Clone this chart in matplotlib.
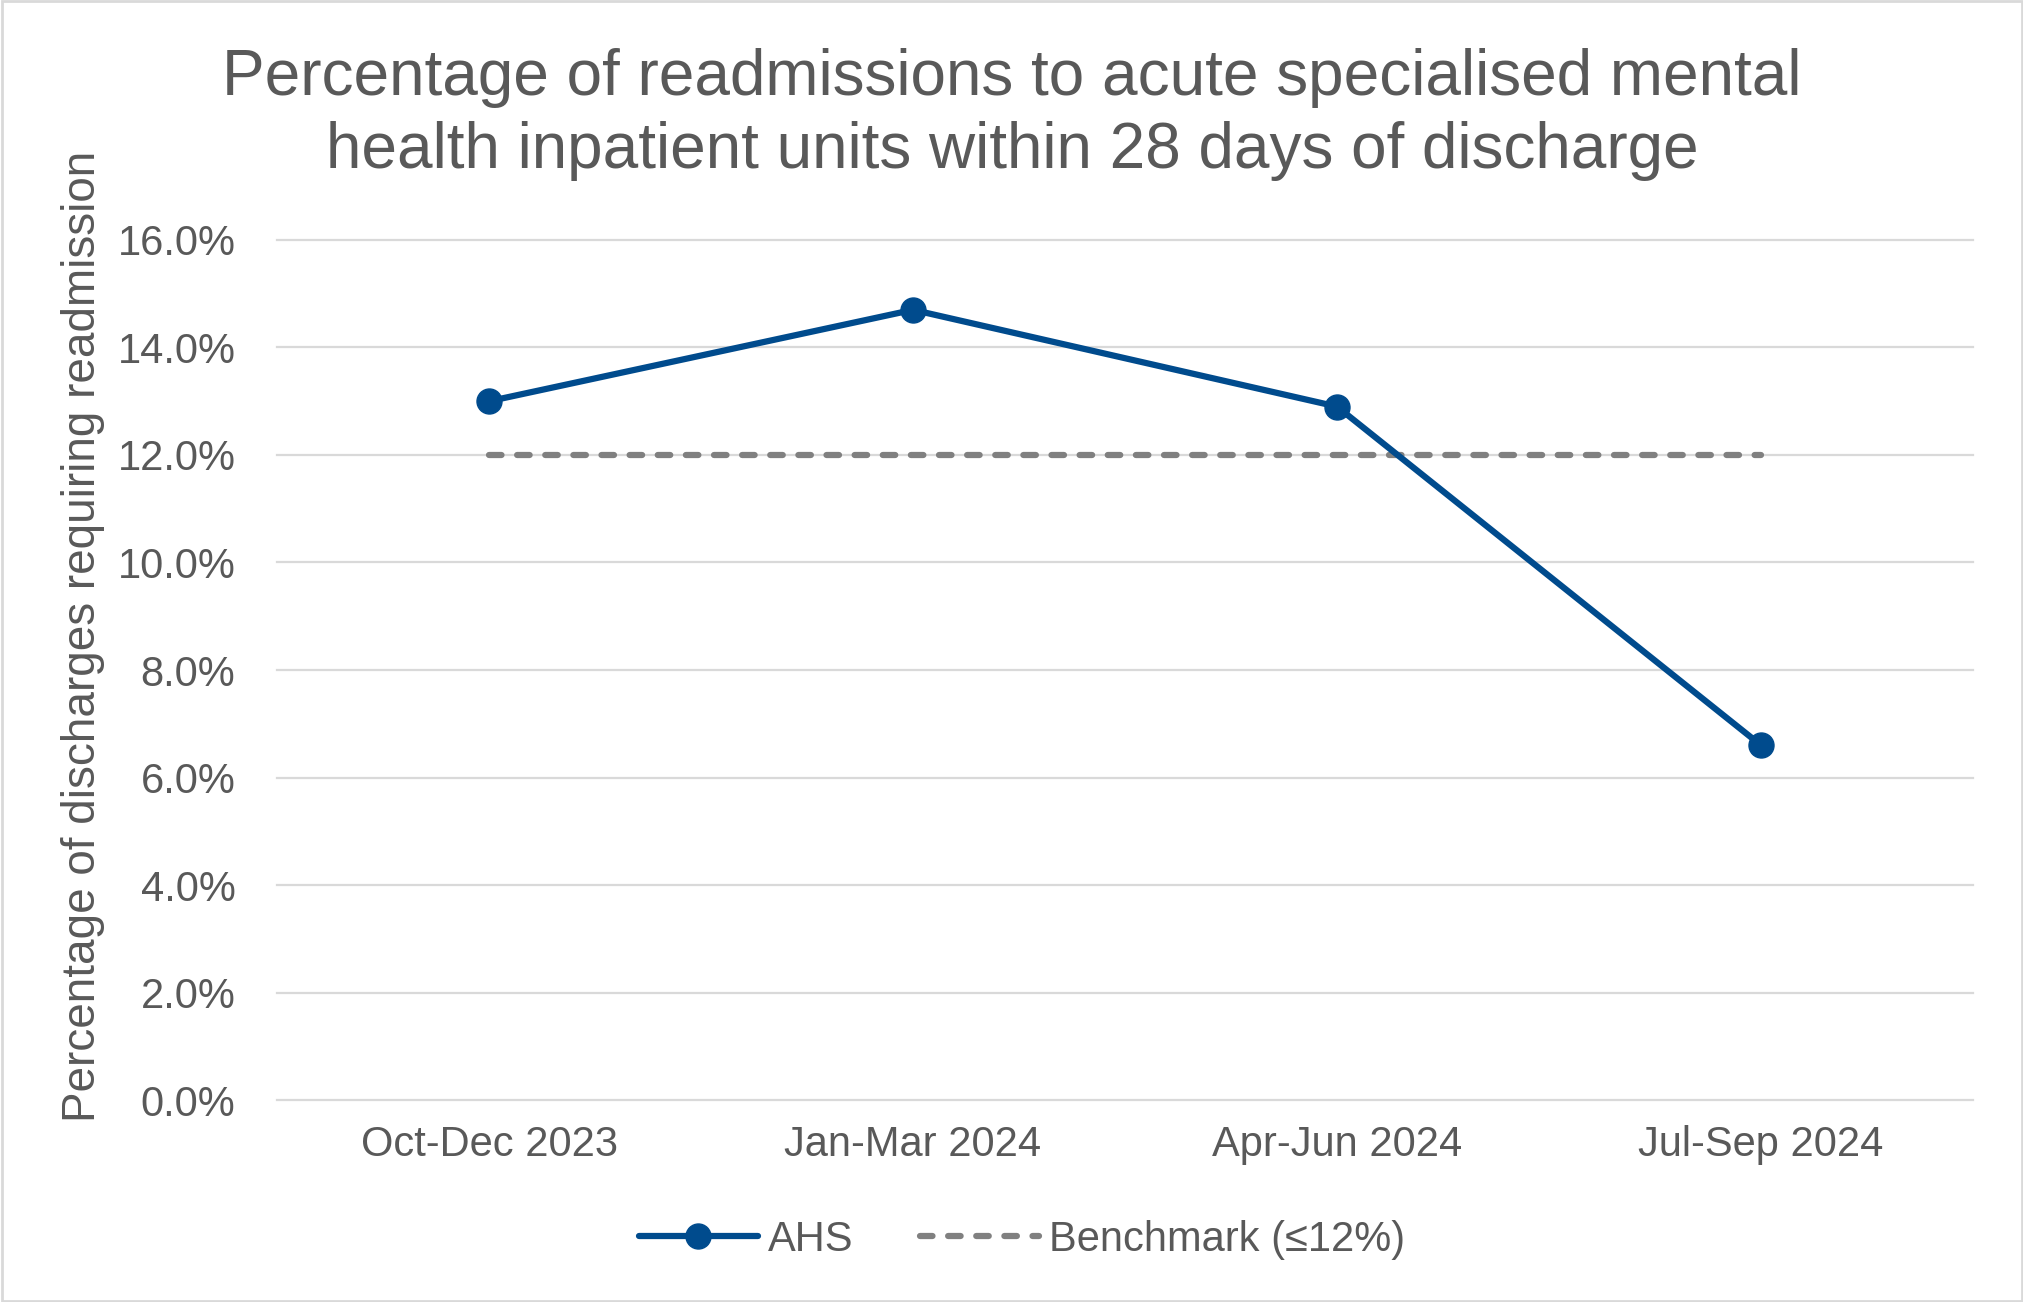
import numpy as np
import matplotlib
matplotlib.use('Agg')
import matplotlib.pyplot as plt
from matplotlib.patches import Rectangle

plt.rcParams['font.family'] = ['Liberation Sans', 'DejaVu Sans']

quarters = ['Oct-Dec 2023', 'Jan-Mar 2024', 'Apr-Jun 2024', 'Jul-Sep 2024']
ahs = [13.0, 14.7, 12.9, 6.6]
benchmark = [12.0, 12.0, 12.0, 12.0]
yticks = [0, 2, 4, 6, 8, 10, 12, 14, 16]

text_col = '#595959'
blue = '#004B8D'
grey = '#808080'

fig = plt.figure(figsize=(20.24, 13.02), dpi=100)
ax = fig.add_axes([0.1369, 0.1551, 0.8379, 0.6606])

x = np.arange(len(quarters))
ax.plot(x, ahs, color=blue, lw=4.5, marker='o', markersize=18,
        solid_capstyle='round', label='AHS', zorder=3)
ax.plot(x, benchmark, color=grey, lw=4.5, dashes=(2.0, 2.5),
        dash_capstyle='round', label='Benchmark (\u226412%)', zorder=2)

ax.set_xlim(-0.5, len(quarters) - 0.5)
ax.set_ylim(0, 16)
ax.set_yticks(yticks)
ax.set_yticklabels(['{:.1f}%'.format(v) for v in yticks])
ax.set_xticks(x)
ax.set_xticklabels(quarters)
ax.tick_params(axis='both', length=0, labelsize=30, colors=text_col)
ax.tick_params(axis='y', pad=30)
ax.tick_params(axis='x', pad=18)
for s in ax.spines.values():
    s.set_visible(False)
for v in yticks:
    ax.axhline(v, color='#d9d9d9', lw=1.6, zorder=1, clip_on=False)

fig.text(0.5, 0.963, 'Percentage of readmissions to acute specialised mental\n'
         'health inpatient units within 28 days of discharge',
         ha='center', va='top', fontsize=46, color=text_col, linespacing=1.27)
fig.text(0.041, 0.5115, 'Percentage of discharges requiring readmission',
         rotation=90, ha='center', va='center', fontsize=33, color=text_col)

fig.legend(loc='center', bbox_to_anchor=(0.505, 0.048), ncol=2, frameon=False,
           fontsize=30, labelcolor=text_col, handlelength=2.85,
           handletextpad=0.25, columnspacing=1.6)

fig.patches.append(Rectangle((0.001, 0.001), 0.998, 0.998, transform=fig.transFigure,
                             fill=False, edgecolor='#d9d9d9', lw=2))

fig.savefig('out.png', dpi=100)
